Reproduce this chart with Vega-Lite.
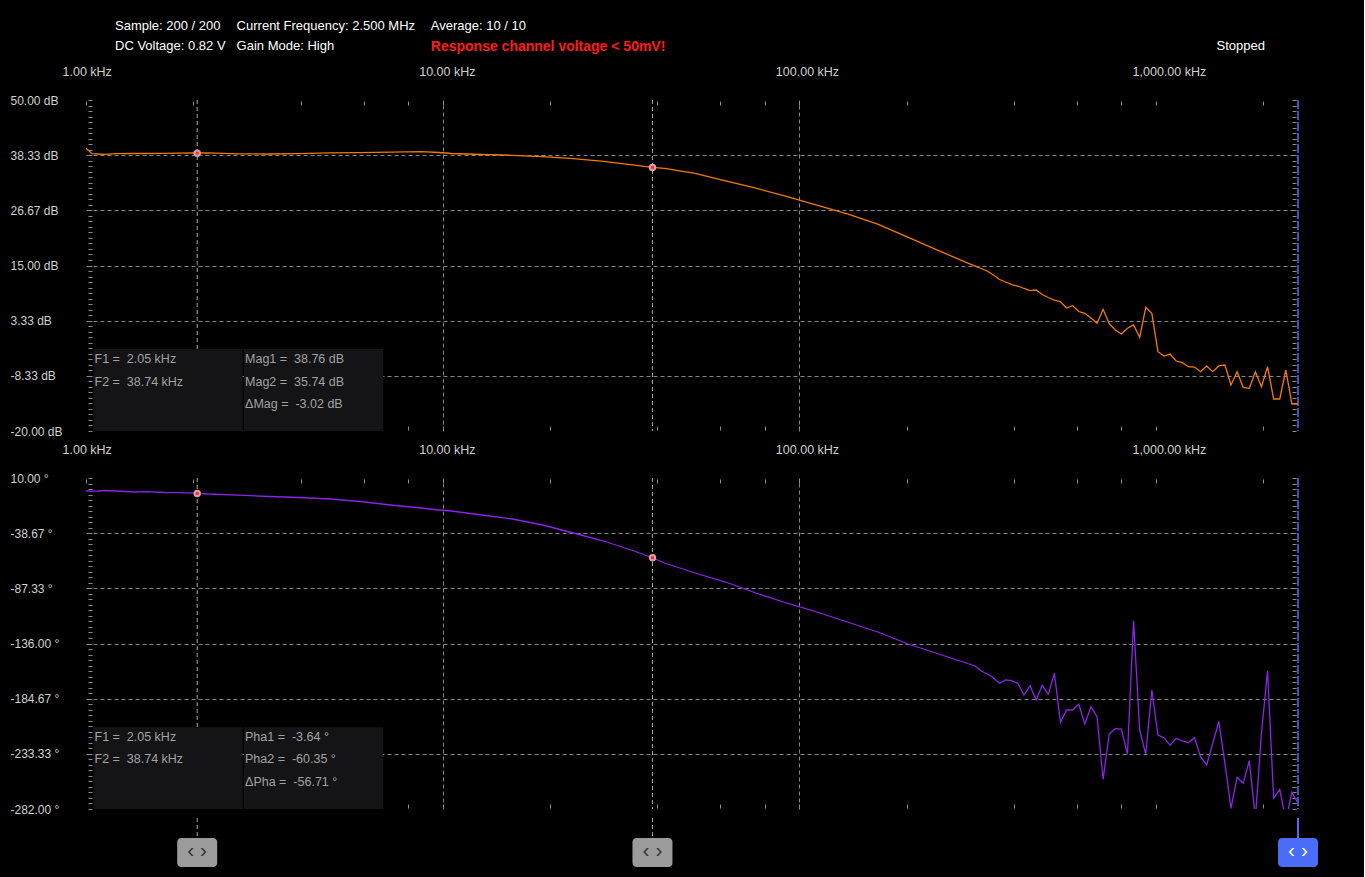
{
  "$schema": "https://vega.github.io/schema/vega-lite/v6.json",
  "background": "#000000",
  "padding": {"left": 10, "top": 20, "right": 46, "bottom": 10},
  "autosize": {"type": "pad"},
  "bounds": "flush",
  "spacing": 47,
  "config": {
    "view": {"stroke": null},
    "font": "Liberation Sans",
    "axis": {"labelFont": "Liberation Sans"},
    "scale": {"continuousPadding": 0}
  },
  "datasets": {
    "sweep": [
      {"f": 1, "mag": 39.79, "phase": -1.47},
      {"f": 1.0401, "mag": 38.64, "phase": -1.64},
      {"f": 1.0818, "mag": 38.58, "phase": -1.47},
      {"f": 1.1253, "mag": 38.52, "phase": -1.03},
      {"f": 1.2172, "mag": 38.64, "phase": -1.47},
      {"f": 1.3696, "mag": 38.69, "phase": -2.35},
      {"f": 1.4817, "mag": 38.69, "phase": -2.09},
      {"f": 1.6671, "mag": 38.73, "phase": -2.79},
      {"f": 1.8034, "mag": 38.75, "phase": -2.97},
      {"f": 2.0293, "mag": 38.79, "phase": -3.41},
      {"f": 2.1953, "mag": 38.83, "phase": -4.11},
      {"f": 2.6723, "mag": 38.62, "phase": -5.17},
      {"f": 3.2527, "mag": 38.58, "phase": -6.32},
      {"f": 3.9595, "mag": 38.66, "phase": -7.2},
      {"f": 4.8196, "mag": 38.83, "phase": -8.53},
      {"f": 5.8668, "mag": 38.85, "phase": -10.73},
      {"f": 7.1408, "mag": 38.98, "phase": -13.82},
      {"f": 8.6923, "mag": 39.08, "phase": -16.47},
      {"f": 9.7807, "mag": 38.9, "phase": -18.23},
      {"f": 10.581, "mag": 38.69, "phase": -19.11},
      {"f": 12.878, "mag": 38.47, "phase": -22.64},
      {"f": 15.677, "mag": 38.3, "phase": -26.17},
      {"f": 19.083, "mag": 38.01, "phase": -31.46},
      {"f": 23.228, "mag": 37.6, "phase": -38.52},
      {"f": 28.276, "mag": 37.0, "phase": -45.58},
      {"f": 34.421, "mag": 36.23, "phase": -54.4},
      {"f": 38.728, "mag": 35.74, "phase": -60.35},
      {"f": 41.897, "mag": 35.53, "phase": -64.99},
      {"f": 51.0, "mag": 34.5, "phase": -73.81},
      {"f": 62.083, "mag": 32.91, "phase": -81.75},
      {"f": 75.553, "mag": 31.35, "phase": -91.45},
      {"f": 91.969, "mag": 29.63, "phase": -100.27},
      {"f": 111.94, "mag": 27.77, "phase": -108.21},
      {"f": 136.27, "mag": 25.91, "phase": -117.03},
      {"f": 165.86, "mag": 23.73, "phase": -125.85},
      {"f": 201.93, "mag": 20.94, "phase": -136.44},
      {"f": 245.78, "mag": 18.15, "phase": -145.26},
      {"f": 299.18, "mag": 15.38, "phase": -154.09},
      {"f": 311.15, "mag": 14.89, "phase": -155.85},
      {"f": 323.62, "mag": 14.37, "phase": -160.26},
      {"f": 336.6, "mag": 13.79, "phase": -162.91},
      {"f": 350.1, "mag": 12.99, "phase": -166.44},
      {"f": 364.14, "mag": 12.04, "phase": -171.11},
      {"f": 378.74, "mag": 11.51, "phase": -168.2},
      {"f": 393.92, "mag": 10.98, "phase": -168.82},
      {"f": 409.73, "mag": 10.66, "phase": -171.11},
      {"f": 426.16, "mag": 10.14, "phase": -181.43},
      {"f": 443.25, "mag": 9.67, "phase": -173.23},
      {"f": 461.02, "mag": 9.82, "phase": -185.84},
      {"f": 479.51, "mag": 8.87, "phase": -172.88},
      {"f": 498.74, "mag": 8.23, "phase": -180.82},
      {"f": 518.73, "mag": 7.7, "phase": -162.29},
      {"f": 539.54, "mag": 7.34, "phase": -205.52},
      {"f": 561.16, "mag": 6.01, "phase": -194.67},
      {"f": 583.67, "mag": 6.5, "phase": -194.67},
      {"f": 607.07, "mag": 5.27, "phase": -189.64},
      {"f": 631.42, "mag": 4.89, "phase": -207.02},
      {"f": 656.74, "mag": 3.9, "phase": -191.75},
      {"f": 683.07, "mag": 2.78, "phase": -200.57},
      {"f": 710.46, "mag": 5.74, "phase": -255.8},
      {"f": 738.96, "mag": 2.73, "phase": -215.84},
      {"f": 768.6, "mag": 1.36, "phase": -211.16},
      {"f": 799.42, "mag": 0.51, "phase": -211.43},
      {"f": 831.47, "mag": 1.72, "phase": -233.75},
      {"f": 864.82, "mag": 2.42, "phase": -115.89},
      {"f": 899.5, "mag": -0.18, "phase": -212.31},
      {"f": 935.57, "mag": 6.16, "phase": -233.75},
      {"f": 973.09, "mag": 4.89, "phase": -177.02},
      {"f": 1012.1, "mag": -3.23, "phase": -216.72},
      {"f": 1052.7, "mag": -4.14, "phase": -219.1},
      {"f": 1094.9, "mag": -3.72, "phase": -225.81},
      {"f": 1138.8, "mag": -5.2, "phase": -219.63},
      {"f": 1184.5, "mag": -5.56, "phase": -222.01},
      {"f": 1231.9, "mag": -6.4, "phase": -223.51},
      {"f": 1281.4, "mag": -6.47, "phase": -219.1},
      {"f": 1332.7, "mag": -7.46, "phase": -235.86},
      {"f": 1386.2, "mag": -6.25, "phase": -243.19},
      {"f": 1441.8, "mag": -7.46, "phase": -224.04},
      {"f": 1499.6, "mag": -6.25, "phase": -204.99},
      {"f": 1559.7, "mag": -6.04, "phase": -241.68},
      {"f": 1622.2, "mag": -10.27, "phase": -281.38},
      {"f": 1687.3, "mag": -7.46, "phase": -254.04},
      {"f": 1755.0, "mag": -10.76, "phase": -259.33},
      {"f": 1825.4, "mag": -10.97, "phase": -239.39},
      {"f": 1898.5, "mag": -7.46, "phase": -290},
      {"f": 1974.7, "mag": -10.63, "phase": -215.22},
      {"f": 2053.8, "mag": -6.4, "phase": -160.26},
      {"f": 2136.2, "mag": -13.23, "phase": -272.56},
      {"f": 2221.9, "mag": -13.23, "phase": -264.62},
      {"f": 2311.0, "mag": -7.1, "phase": -292},
      {"f": 2403.7, "mag": -14.29, "phase": -267.27},
      {"f": 2500, "mag": -14.29, "phase": -276.97}
    ],
    "cursors": [
      {"cursor": "F1", "f": 2.05, "mag": 38.76, "phase": -3.64},
      {"cursor": "F2", "f": 38.74, "mag": 35.74, "phase": -60.35}
    ],
    "markers": [
      {"marker": "F1", "f": 2.05},
      {"marker": "F2", "f": 38.74},
      {"marker": "Current", "f": 2500}
    ]
  },
  "vconcat": [
    {
      "width": 1212,
      "height": 331,
      "resolve": {"axis": {"x": "independent", "y": "independent"}},
      "layer": [
        {
          "data": {"name": "markers"},
          "mark": {"type": "rule"},
          "encoding": {
            "x": {"field": "f", "type": "quantitative", "scale": {"type": "log", "domain": [1, 2500], "nice": false, "padding": 0}, "axis": null},
            "color": {"condition": {"test": "datum.marker === 'Current'", "value": "#3b4fc8"}, "value": "#a6a6a6"},
            "strokeDash": {"condition": {"test": "datum.marker === 'Current'", "value": [9, 2]}, "value": [4, 3]},
            "strokeWidth": {"condition": {"test": "datum.marker === 'Current'", "value": 2}, "value": 1}
          }
        },
        {
          "data": {"values": [{}]},
          "mark": {"type": "rect", "color": "#141416"},
          "encoding": {
            "x": {"datum": 1.0483, "type": "quantitative", "scale": {"type": "log", "domain": [1, 2500], "nice": false, "padding": 0}, "axis": null},
            "x2": {"datum": 2.7466},
            "y": {"datum": -2.66, "type": "quantitative", "scale": {"domain": [-20, 50], "nice": false, "zero": false}, "axis": null},
            "y2": {"datum": -20}
          }
        },
        {
          "data": {"values": [{}]},
          "mark": {"type": "rect", "color": "#141416"},
          "encoding": {
            "x": {"datum": 2.7697, "type": "quantitative", "scale": {"type": "log", "domain": [1, 2500], "nice": false, "padding": 0}, "axis": null},
            "x2": {"datum": 6.8154},
            "y": {"datum": -2.66, "type": "quantitative", "scale": {"domain": [-20, 50], "nice": false, "zero": false}, "axis": null},
            "y2": {"datum": -20}
          }
        },
        {
          "data": {"name": "sweep"},
          "mark": {"type": "line", "color": "#f47a00", "strokeWidth": 1.3},
          "encoding": {
            "x": {
              "field": "f", "type": "quantitative",
              "scale": {"type": "log", "domain": [1, 2500], "nice": false, "padding": 0},
              "axis": {
                "orient": "top", "title": null,
                "values": [1, 2, 4, 6, 8, 10, 20, 40, 60, 80, 100, 200, 400, 600, 800, 1000, 2000],
                "labelExpr": "indexof([1, 10, 100, 1000], datum.value) >= 0 ? format(datum.value, ',.2f') + ' kHz' : ''",
                "labelAlign": "left", "labelOffset": -24, "labelPadding": 23, "labelFlush": false, "labelOverlap": false,
                "labelColor": "#d0d0d0", "labelFontSize": 12.5,
                "tickSize": 4, "tickColor": "#8c8c8c", "offset": -5, "domain": false,
                "grid": true, "gridColor": "#868686", "gridDash": [4, 3],
                "gridOpacity": {"condition": {"test": "datum.value === 10 || datum.value === 100", "value": 1}, "value": 0}
              }
            },
            "y": {
              "field": "mag", "type": "quantitative",
              "scale": {"domain": [-20, 50], "nice": false, "zero": false},
              "axis": {
                "orient": "left", "title": null,
                "values": [-20, -18.8333, -17.6667, -16.5, -15.3333, -14.1667, -13, -11.8333, -10.6667, -9.5, -8.3333, -7.1667, -6, -4.8333, -3.6667, -2.5, -1.3333, -0.1667, 1, 2.1667, 3.3333, 4.5, 5.6667, 6.8333, 8, 9.1667, 10.3333, 11.5, 12.6667, 13.8333, 15, 16.1667, 17.3333, 18.5, 19.6667, 20.8333, 22, 23.1667, 24.3333, 25.5, 26.6667, 27.8333, 29, 30.1667, 31.3333, 32.5, 33.6667, 34.8333, 36, 37.1667, 38.3333, 39.5, 40.6667, 41.8333, 43, 44.1667, 45.3333, 46.5, 47.6667, 48.8333, 50],
                "labelExpr": "abs((datum.value + 20) * 6 / 70 - round((datum.value + 20) * 6 / 70)) < 0.01 ? replace(format(datum.value, '.2f'), '\u2212', '-') + ' dB' : ''",
                "labelAlign": "left", "labelPadding": 78, "labelFlush": false, "labelOverlap": false,
                "labelColor": "#d0d0d0", "labelFontSize": 12,
                "tickSize": 4, "tickColor": "#8c8c8c", "offset": -6, "domain": false,
                "grid": true, "gridColor": "#868686", "gridDash": [4, 3],
                "gridOpacity": {"condition": {"test": "abs((datum.value + 20) * 6 / 70 - round((datum.value + 20) * 6 / 70)) < 0.01 && datum.value > -19 && datum.value < 49", "value": 1}, "value": 0}
              }
            }
          }
        },
        {
          "data": {"name": "cursors"},
          "mark": {"type": "point", "filled": true, "shape": "circle", "size": 55, "color": "#d8a4aa", "opacity": 1},
          "encoding": {
            "x": {
              "field": "f", "type": "quantitative",
              "scale": {"type": "log", "domain": [1, 2500], "nice": false, "padding": 0},
              "axis": {"orient": "bottom", "title": null, "values": [2, 4, 6, 8, 10, 20, 40, 60, 80, 100, 200, 400, 600, 800, 1000, 2000], "labels": false, "tickSize": 4, "tickColor": "#8c8c8c", "offset": -5, "domain": false, "grid": false}
            },
            "y": {
              "field": "mag", "type": "quantitative",
              "scale": {"domain": [-20, 50], "nice": false, "zero": false},
              "axis": {"orient": "right", "title": null, "values": [-20, -18.8333, -17.6667, -16.5, -15.3333, -14.1667, -13, -11.8333, -10.6667, -9.5, -8.3333, -7.1667, -6, -4.8333, -3.6667, -2.5, -1.3333, -0.1667, 1, 2.1667, 3.3333, 4.5, 5.6667, 6.8333, 8, 9.1667, 10.3333, 11.5, 12.6667, 13.8333, 15, 16.1667, 17.3333, 18.5, 19.6667, 20.8333, 22, 23.1667, 24.3333, 25.5, 26.6667, 27.8333, 29, 30.1667, 31.3333, 32.5, 33.6667, 34.8333, 36, 37.1667, 38.3333, 39.5, 40.6667, 41.8333, 43, 44.1667, 45.3333, 46.5, 47.6667, 48.8333, 50], "labels": false, "tickSize": 4, "tickColor": "#8c8c8c", "offset": -6, "domain": false, "grid": false}
            }
          }
        },
        {
          "data": {"name": "cursors"},
          "mark": {"type": "point", "filled": true, "shape": "square", "size": 9, "color": "#ff2a3a", "opacity": 1},
          "encoding": {
            "x": {"field": "f", "type": "quantitative", "scale": {"type": "log", "domain": [1, 2500], "nice": false, "padding": 0}, "axis": null},
            "y": {"field": "mag", "type": "quantitative", "scale": {"domain": [-20, 50], "nice": false, "zero": false}, "axis": null}
          }
        },
        {
          "data": {"values": [{}]},
          "mark": {"type": "text", "text": ["F1 =\u00a0 2.05 kHz", "F2 =\u00a0 38.74 kHz"], "align": "left", "baseline": "top", "lineHeight": 22.5, "fontSize": 12.5, "color": "#a2a2a2"},
          "encoding": {
            "x": {"datum": 1.0564, "type": "quantitative", "scale": {"type": "log", "domain": [1, 2500], "nice": false, "padding": 0}, "axis": null},
            "y": {"datum": -3.53, "type": "quantitative", "scale": {"domain": [-20, 50], "nice": false, "zero": false}, "axis": null}
          }
        },
        {
          "data": {"values": [{}]},
          "mark": {"type": "text", "text": ["Mag1 =\u00a0 38.76 dB", "Mag2 =\u00a0 35.74 dB", "\u0394Mag =\u00a0 -3.02 dB"], "align": "left", "baseline": "top", "lineHeight": 22.5, "fontSize": 12.5, "color": "#a2a2a2"},
          "encoding": {
            "x": {"datum": 2.7916, "type": "quantitative", "scale": {"type": "log", "domain": [1, 2500], "nice": false, "padding": 0}, "axis": null},
            "y": {"datum": -3.53, "type": "quantitative", "scale": {"domain": [-20, 50], "nice": false, "zero": false}, "axis": null}
          }
        },
        {
          "data": {"values": [{}]},
          "mark": {"type": "text", "text": ["Sample: 200 / 200", "DC Voltage: 0.82 V"], "align": "left", "baseline": "top", "lineHeight": 20, "fontSize": 13, "color": "#ffffff"},
          "encoding": {
            "x": {"datum": 1.2058, "type": "quantitative", "scale": {"type": "log", "domain": [1, 2500], "nice": false, "padding": 0}, "axis": null},
            "y": {"datum": 66.83, "type": "quantitative", "scale": {"domain": [-20, 50], "nice": false, "zero": false}, "axis": null}
          }
        },
        {
          "data": {"values": [{}]},
          "mark": {"type": "text", "text": ["Current Frequency: 2.500 MHz", "Gain Mode: High"], "align": "left", "baseline": "top", "lineHeight": 20, "fontSize": 13, "color": "#ffffff"},
          "encoding": {
            "x": {"datum": 2.6441, "type": "quantitative", "scale": {"type": "log", "domain": [1, 2500], "nice": false, "padding": 0}, "axis": null},
            "y": {"datum": 66.83, "type": "quantitative", "scale": {"domain": [-20, 50], "nice": false, "zero": false}, "axis": null}
          }
        },
        {
          "data": {"values": [{}]},
          "mark": {"type": "text", "text": "Average: 10 / 10", "align": "left", "baseline": "top", "fontSize": 13, "color": "#ffffff"},
          "encoding": {
            "x": {"datum": 9.2609, "type": "quantitative", "scale": {"type": "log", "domain": [1, 2500], "nice": false, "padding": 0}, "axis": null},
            "y": {"datum": 66.83, "type": "quantitative", "scale": {"domain": [-20, 50], "nice": false, "zero": false}, "axis": null}
          }
        },
        {
          "data": {"values": [{}]},
          "mark": {"type": "text", "text": "Response channel voltage < 50mV!", "align": "left", "baseline": "top", "fontSize": 14, "fontWeight": "bold", "color": "#ff1a1a"},
          "encoding": {
            "x": {"datum": 9.2609, "type": "quantitative", "scale": {"type": "log", "domain": [1, 2500], "nice": false, "padding": 0}, "axis": null},
            "y": {"datum": 62.75, "type": "quantitative", "scale": {"domain": [-20, 50], "nice": false, "zero": false}, "axis": null}
          }
        },
        {
          "data": {"values": [{}]},
          "mark": {"type": "text", "text": "Stopped", "align": "right", "baseline": "top", "fontSize": 13, "color": "#ffffff"},
          "encoding": {
            "x": {"datum": 2020.6, "type": "quantitative", "scale": {"type": "log", "domain": [1, 2500], "nice": false, "padding": 0}, "axis": null},
            "y": {"datum": 62.6, "type": "quantitative", "scale": {"domain": [-20, 50], "nice": false, "zero": false}, "axis": null}
          }
        }
      ]
    },
    {
      "width": 1212,
      "height": 331,
      "resolve": {"axis": {"x": "independent", "y": "independent"}},
      "layer": [
        {
          "data": {"name": "markers"},
          "mark": {"type": "rule"},
          "encoding": {
            "x": {"field": "f", "type": "quantitative", "scale": {"type": "log", "domain": [1, 2500], "nice": false, "padding": 0}, "axis": null},
            "color": {"condition": {"test": "datum.marker === 'Current'", "value": "#3b4fc8"}, "value": "#a6a6a6"},
            "strokeDash": {"condition": {"test": "datum.marker === 'Current'", "value": [9, 2]}, "value": [4, 3]},
            "strokeWidth": {"condition": {"test": "datum.marker === 'Current'", "value": 2}, "value": 1}
          }
        },
        {
          "data": {"name": "markers"},
          "mark": {"type": "rule"},
          "encoding": {
            "x": {"field": "f", "type": "quantitative", "scale": {"type": "log", "domain": [1, 2500], "nice": false, "padding": 0}, "axis": null},
            "y": {"datum": -289.94, "type": "quantitative", "scale": {"domain": [-282, 10], "nice": false, "zero": false}, "axis": null},
            "y2": {"datum": -307.58},
            "color": {"condition": {"test": "datum.marker === 'Current'", "value": "#4b6cf6"}, "value": "#a6a6a6"},
            "strokeDash": {"condition": {"test": "datum.marker === 'Current'", "value": [1, 0]}, "value": [4, 3]},
            "strokeWidth": {"condition": {"test": "datum.marker === 'Current'", "value": 2}, "value": 1}
          }
        },
        {
          "data": {"name": "markers"},
          "mark": {"type": "bar", "width": 40, "cornerRadius": 4},
          "encoding": {
            "x": {"field": "f", "type": "quantitative", "scale": {"type": "log", "domain": [1, 2500], "nice": false, "padding": 0}, "axis": null},
            "y": {"datum": -307.58, "type": "quantitative", "scale": {"domain": [-282, 10], "nice": false, "zero": false}, "axis": null},
            "y2": {"datum": -333.17},
            "color": {"condition": {"test": "datum.marker === 'Current'", "value": "#4b6cf6"}, "value": "#9b9b9b"}
          }
        },
        {
          "data": {"name": "markers"},
          "mark": {"type": "text", "text": "\u2039\u00a0\u203a", "fontSize": 21, "baseline": "middle", "align": "center", "dy": -1},
          "encoding": {
            "x": {"field": "f", "type": "quantitative", "scale": {"type": "log", "domain": [1, 2500], "nice": false, "padding": 0}, "axis": null},
            "y": {"datum": -320.37, "type": "quantitative", "scale": {"domain": [-282, 10], "nice": false, "zero": false}, "axis": null},
            "color": {"condition": {"test": "datum.marker === 'Current'", "value": "#ffffff"}, "value": "#333333"}
          }
        },
        {
          "data": {"values": [{}]},
          "mark": {"type": "rect", "color": "#141416"},
          "encoding": {
            "x": {"datum": 1.0483, "type": "quantitative", "scale": {"type": "log", "domain": [1, 2500], "nice": false, "padding": 0}, "axis": null},
            "x2": {"datum": 2.7466},
            "y": {"datum": -209.93, "type": "quantitative", "scale": {"domain": [-282, 10], "nice": false, "zero": false}, "axis": null},
            "y2": {"datum": -282}
          }
        },
        {
          "data": {"values": [{}]},
          "mark": {"type": "rect", "color": "#141416"},
          "encoding": {
            "x": {"datum": 2.7697, "type": "quantitative", "scale": {"type": "log", "domain": [1, 2500], "nice": false, "padding": 0}, "axis": null},
            "x2": {"datum": 6.8154},
            "y": {"datum": -209.93, "type": "quantitative", "scale": {"domain": [-282, 10], "nice": false, "zero": false}, "axis": null},
            "y2": {"datum": -282}
          }
        },
        {
          "data": {"name": "sweep"},
          "mark": {"type": "line", "color": "#8b24e8", "strokeWidth": 1.3, "clip": true},
          "encoding": {
            "x": {
              "field": "f", "type": "quantitative",
              "scale": {"type": "log", "domain": [1, 2500], "nice": false, "padding": 0},
              "axis": {
                "orient": "top", "title": null,
                "values": [1, 2, 4, 6, 8, 10, 20, 40, 60, 80, 100, 200, 400, 600, 800, 1000, 2000],
                "labelExpr": "indexof([1, 10, 100, 1000], datum.value) >= 0 ? format(datum.value, ',.2f') + ' kHz' : ''",
                "labelAlign": "left", "labelOffset": -24, "labelPadding": 23, "labelFlush": false, "labelOverlap": false,
                "labelColor": "#d0d0d0", "labelFontSize": 12.5,
                "tickSize": 4, "tickColor": "#8c8c8c", "offset": -5, "domain": false,
                "grid": true, "gridColor": "#868686", "gridDash": [4, 3],
                "gridOpacity": {"condition": {"test": "datum.value === 10 || datum.value === 100", "value": 1}, "value": 0}
              }
            },
            "y": {
              "field": "phase", "type": "quantitative",
              "scale": {"domain": [-282, 10], "nice": false, "zero": false},
              "axis": {
                "orient": "left", "title": null,
                "values": [-282, -277.1333, -272.2667, -267.4, -262.5333, -257.6667, -252.8, -247.9333, -243.0667, -238.2, -233.3333, -228.4667, -223.6, -218.7333, -213.8667, -209, -204.1333, -199.2667, -194.4, -189.5333, -184.6667, -179.8, -174.9333, -170.0667, -165.2, -160.3333, -155.4667, -150.6, -145.7333, -140.8667, -136, -131.1333, -126.2667, -121.4, -116.5333, -111.6667, -106.8, -101.9333, -97.0667, -92.2, -87.3333, -82.4667, -77.6, -72.7333, -67.8667, -63, -58.1333, -53.2667, -48.4, -43.5333, -38.6667, -33.8, -28.9333, -24.0667, -19.2, -14.3333, -9.4667, -4.6, 0.2667, 5.1333, 10],
                "labelExpr": "abs((datum.value + 282) * 6 / 292 - round((datum.value + 282) * 6 / 292)) < 0.01 ? replace(format(datum.value, '.2f'), '\u2212', '-') + ' \u00b0' : ''",
                "labelAlign": "left", "labelPadding": 78, "labelFlush": false, "labelOverlap": false,
                "labelColor": "#d0d0d0", "labelFontSize": 12,
                "tickSize": 4, "tickColor": "#8c8c8c", "offset": -6, "domain": false,
                "grid": true, "gridColor": "#868686", "gridDash": [4, 3],
                "gridOpacity": {"condition": {"test": "abs((datum.value + 282) * 6 / 292 - round((datum.value + 282) * 6 / 292)) < 0.01 && datum.value > -281 && datum.value < 9", "value": 1}, "value": 0}
              }
            }
          }
        },
        {
          "data": {"name": "cursors"},
          "mark": {"type": "point", "filled": true, "shape": "circle", "size": 55, "color": "#d8a4aa", "opacity": 1},
          "encoding": {
            "x": {
              "field": "f", "type": "quantitative",
              "scale": {"type": "log", "domain": [1, 2500], "nice": false, "padding": 0},
              "axis": {"orient": "bottom", "title": null, "values": [2, 4, 6, 8, 10, 20, 40, 60, 80, 100, 200, 400, 600, 800, 1000, 2000], "labels": false, "tickSize": 4, "tickColor": "#8c8c8c", "offset": -5, "domain": false, "grid": false}
            },
            "y": {
              "field": "phase", "type": "quantitative",
              "scale": {"domain": [-282, 10], "nice": false, "zero": false},
              "axis": {"orient": "right", "title": null, "values": [-282, -277.1333, -272.2667, -267.4, -262.5333, -257.6667, -252.8, -247.9333, -243.0667, -238.2, -233.3333, -228.4667, -223.6, -218.7333, -213.8667, -209, -204.1333, -199.2667, -194.4, -189.5333, -184.6667, -179.8, -174.9333, -170.0667, -165.2, -160.3333, -155.4667, -150.6, -145.7333, -140.8667, -136, -131.1333, -126.2667, -121.4, -116.5333, -111.6667, -106.8, -101.9333, -97.0667, -92.2, -87.3333, -82.4667, -77.6, -72.7333, -67.8667, -63, -58.1333, -53.2667, -48.4, -43.5333, -38.6667, -33.8, -28.9333, -24.0667, -19.2, -14.3333, -9.4667, -4.6, 0.2667, 5.1333, 10], "labels": false, "tickSize": 4, "tickColor": "#8c8c8c", "offset": -6, "domain": false, "grid": false}
            }
          }
        },
        {
          "data": {"name": "cursors"},
          "mark": {"type": "point", "filled": true, "shape": "square", "size": 9, "color": "#ff2a3a", "opacity": 1},
          "encoding": {
            "x": {"field": "f", "type": "quantitative", "scale": {"type": "log", "domain": [1, 2500], "nice": false, "padding": 0}, "axis": null},
            "y": {"field": "phase", "type": "quantitative", "scale": {"domain": [-282, 10], "nice": false, "zero": false}, "axis": null}
          }
        },
        {
          "data": {"values": [{}]},
          "mark": {"type": "text", "text": ["F1 =\u00a0 2.05 kHz", "F2 =\u00a0 38.74 kHz"], "align": "left", "baseline": "top", "lineHeight": 22.5, "fontSize": 12.5, "color": "#a2a2a2"},
          "encoding": {
            "x": {"datum": 1.0564, "type": "quantitative", "scale": {"type": "log", "domain": [1, 2500], "nice": false, "padding": 0}, "axis": null},
            "y": {"datum": -213.01, "type": "quantitative", "scale": {"domain": [-282, 10], "nice": false, "zero": false}, "axis": null}
          }
        },
        {
          "data": {"values": [{}]},
          "mark": {"type": "text", "text": ["Pha1 =\u00a0 -3.64 \u00b0", "Pha2 =\u00a0 -60.35 \u00b0", "\u0394Pha =\u00a0 -56.71 \u00b0"], "align": "left", "baseline": "top", "lineHeight": 22.5, "fontSize": 12.5, "color": "#a2a2a2"},
          "encoding": {
            "x": {"datum": 2.7916, "type": "quantitative", "scale": {"type": "log", "domain": [1, 2500], "nice": false, "padding": 0}, "axis": null},
            "y": {"datum": -213.01, "type": "quantitative", "scale": {"domain": [-282, 10], "nice": false, "zero": false}, "axis": null}
          }
        }
      ]
    }
  ]
}
